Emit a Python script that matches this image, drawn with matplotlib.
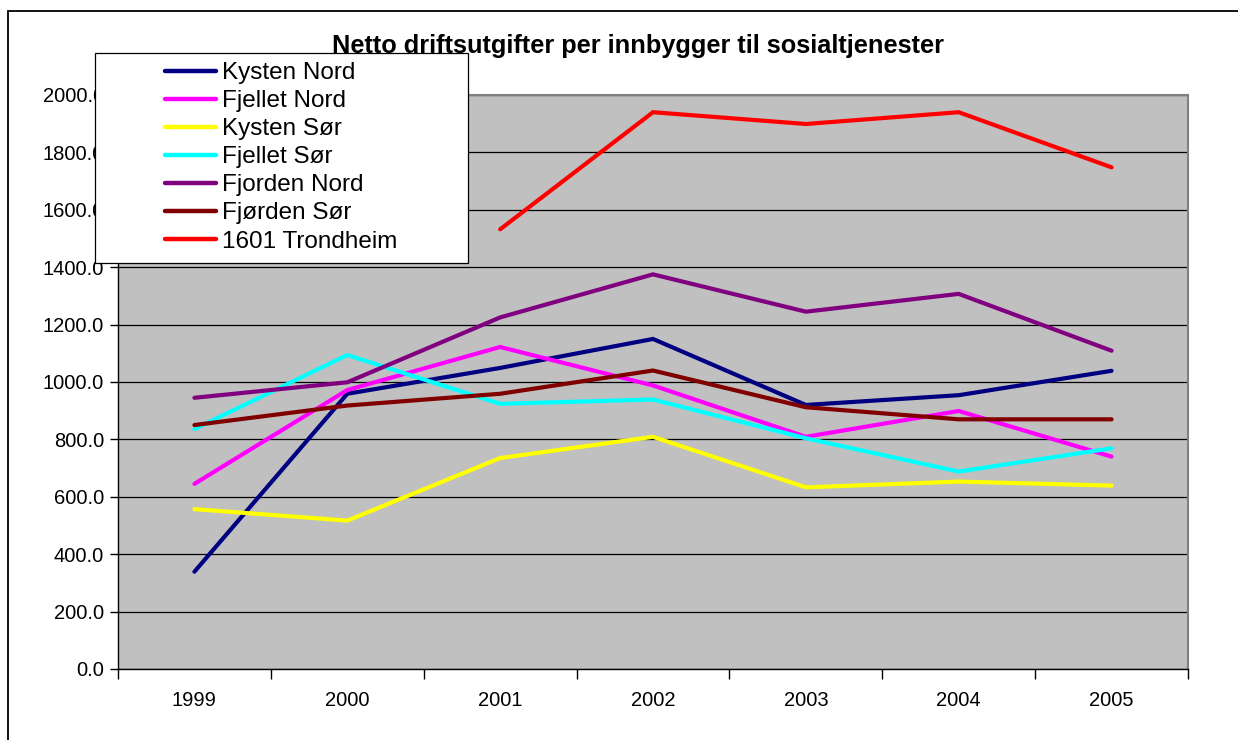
import matplotlib.pyplot as plt
from matplotlib.patches import Rectangle
from matplotlib.ticker import FixedLocator, FuncFormatter

years = ['1999', '2000', '2001', '2002', '2003', '2004', '2005']

kysten_nord = [339, 959, 1049, 1150, 920, 954, 1039]
fjellet_nord = [645, 972, 1122, 988, 809, 899, 740]
kysten_sor = [557, 517, 735, 809, 633, 653, 639]
fjellet_sor = [836, 1094, 924, 939, 804, 688, 769]
fjorden_nord = [945, 999, 1225, 1375, 1245, 1307, 1109]
fjorden_sor = [850, 918, 959, 1040, 912, 870, 870]
trondheim = [None, None, 1532, 1940, 1899, 1940, 1748]

series = [
    ('Kysten Nord', kysten_nord, '#000080'),
    ('Fjellet Nord', fjellet_nord, '#FF00FF'),
    ('Kysten Sør', kysten_sor, '#FFFF00'),
    ('Fjellet Sør', fjellet_sor, '#00FFFF'),
    ('Fjorden Nord', fjorden_nord, '#800080'),
    ('Fjørden Sør', fjorden_sor, '#800000'),
    ('1601 Trondheim', trondheim, '#FF0000'),
]

plt.rcParams['font.family'] = ['Liberation Sans', 'DejaVu Sans']

W, H = 1238, 740
fig = plt.figure(figsize=(W / 100, H / 100), dpi=100)

# outer chart border
fig.patches.append(Rectangle((8 / W, -0.05), 1.05, 1 - 10.5 / H + 0.05,
                             transform=fig.transFigure, fill=False,
                             edgecolor='black', linewidth=1.3))

ax = fig.add_axes([118 / W, (H - 669) / H, (1188 - 118) / W, (669 - 95) / H])
ax.set_facecolor('#C0C0C0')

x = list(range(len(years)))
for name, vals, color in series:
    xs = [i for i, v in zip(x, vals) if v is not None]
    ys = [v for v in vals if v is not None]
    ax.plot(xs, ys, color=color, linewidth=3, label=name,
            solid_capstyle='round', solid_joinstyle='miter')

ax.set_xlim(-0.5, 6.5)
ax.set_ylim(0, 2000)

ax.yaxis.set_major_locator(FixedLocator(range(0, 2001, 200)))
ax.yaxis.set_major_formatter(FuncFormatter(lambda v, p: f'{v:.1f}'))
ax.grid(axis='y', color='black', linewidth=0.9)
ax.set_axisbelow(True)

ax.xaxis.set_major_locator(FixedLocator([i - 0.5 for i in range(8)]))
ax.xaxis.set_minor_locator(FixedLocator(x))
ax.set_xticklabels([])
ax.set_xticklabels(years, minor=True)
ax.tick_params(axis='x', which='major', length=7, width=1, color='black')
ax.tick_params(axis='x', which='minor', length=0, pad=16, labelsize=14.5)
ax.tick_params(axis='y', length=6, width=1, pad=4, labelsize=14.5)

for s in ['top', 'right']:
    ax.spines[s].set_color('#808080')
    ax.spines[s].set_linewidth(1.5)
for s in ['left', 'bottom']:
    ax.spines[s].set_color('black')
    ax.spines[s].set_linewidth(1)

# legend box drawn separately, entries inset from its left edge
fig.patches.append(Rectangle((95 / W, 1 - 263 / H), (468 - 95) / W, (263 - 53) / H,
                             transform=fig.transFigure, facecolor='white',
                             edgecolor='black', linewidth=0.9, zorder=5))
leg = fig.legend(loc='upper left', bbox_to_anchor=(165 / W, 1 - 62 / H),
                 fontsize=17.5, frameon=False, handlelength=2.1,
                 labelspacing=0.25, borderpad=0, handletextpad=0.25,
                 borderaxespad=0)
leg.set_zorder(6)
for line in leg.get_lines():
    line.set_linewidth(3.2)

fig.text(638 / W, 1 - 53 / H, 'Netto driftsutgifter per innbygger til sosialtjenester',
         ha='center', va='baseline', fontsize=18.3, fontweight='bold', zorder=7)

fig.savefig('out.png', dpi=100)
